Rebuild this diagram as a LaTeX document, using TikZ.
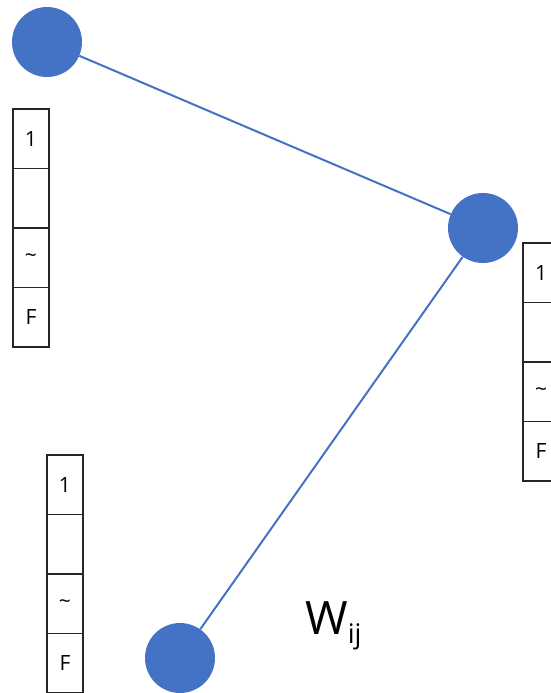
\documentclass[tikz,border=0pt]{standalone}
\usepackage{fontspec}
\setmainfont{Open Sans}
\definecolor{nodeblue}{HTML}{4472C4}
\begin{document}
\begin{tikzpicture}[x=1pt,y=-1pt,
  dot/.style={circle, fill=nodeblue, draw=none, minimum size=70pt, inner sep=0pt},
  link/.style={draw=nodeblue, line width=2pt},
  cell/.style={draw=black!85, line width=1.2pt, minimum width=36pt, minimum height=59.5pt,
    inner sep=0pt, outer sep=0pt, font=\fontsize{21}{21}\selectfont},
  lbl/.style={font=\fontsize{46}{46}\selectfont, inner sep=0pt}]
  \useasboundingbox (0,0) rectangle (551,693);

  % feature columns
  \node[cell, anchor=north west] (L1) at (13,109) {1};
  \node[cell, anchor=north] (L2) at (L1.south) {};
  \node[cell, anchor=north] (L3) at (L2.south) {\raisebox{-2pt}{\textasciitilde}};
  \node[cell, anchor=north] (L4) at (L3.south) {F};

  \node[cell, anchor=north west] (R1) at (523,243) {1};
  \node[cell, anchor=north] (R2) at (R1.south) {};
  \node[cell, anchor=north] (R3) at (R2.south) {\raisebox{-2pt}{\textasciitilde}};
  \node[cell, anchor=north] (R4) at (R3.south) {F};

  \node[cell, anchor=north west] (B1) at (47,455) {1};
  \node[cell, anchor=north] (B2) at (B1.south) {};
  \node[cell, anchor=north] (B3) at (B2.south) {\raisebox{-2pt}{\textasciitilde}};
  \node[cell, anchor=north] (B4) at (B3.south) {F};

  % graph nodes and edges
  \node[dot] (A) at (47,42) {};
  \node[dot] (C) at (483,228) {};
  \node[dot] (D) at (180,658) {};
  \draw[link] (A) -- (C);
  \draw[link] (C) -- (D);

  % edge weight label
  \node[lbl, anchor=base west] (W) at (305,634)
    {W\raisebox{-9pt}{\fontsize{27}{27}\selectfont ij}};
\end{tikzpicture}
\end{document}
